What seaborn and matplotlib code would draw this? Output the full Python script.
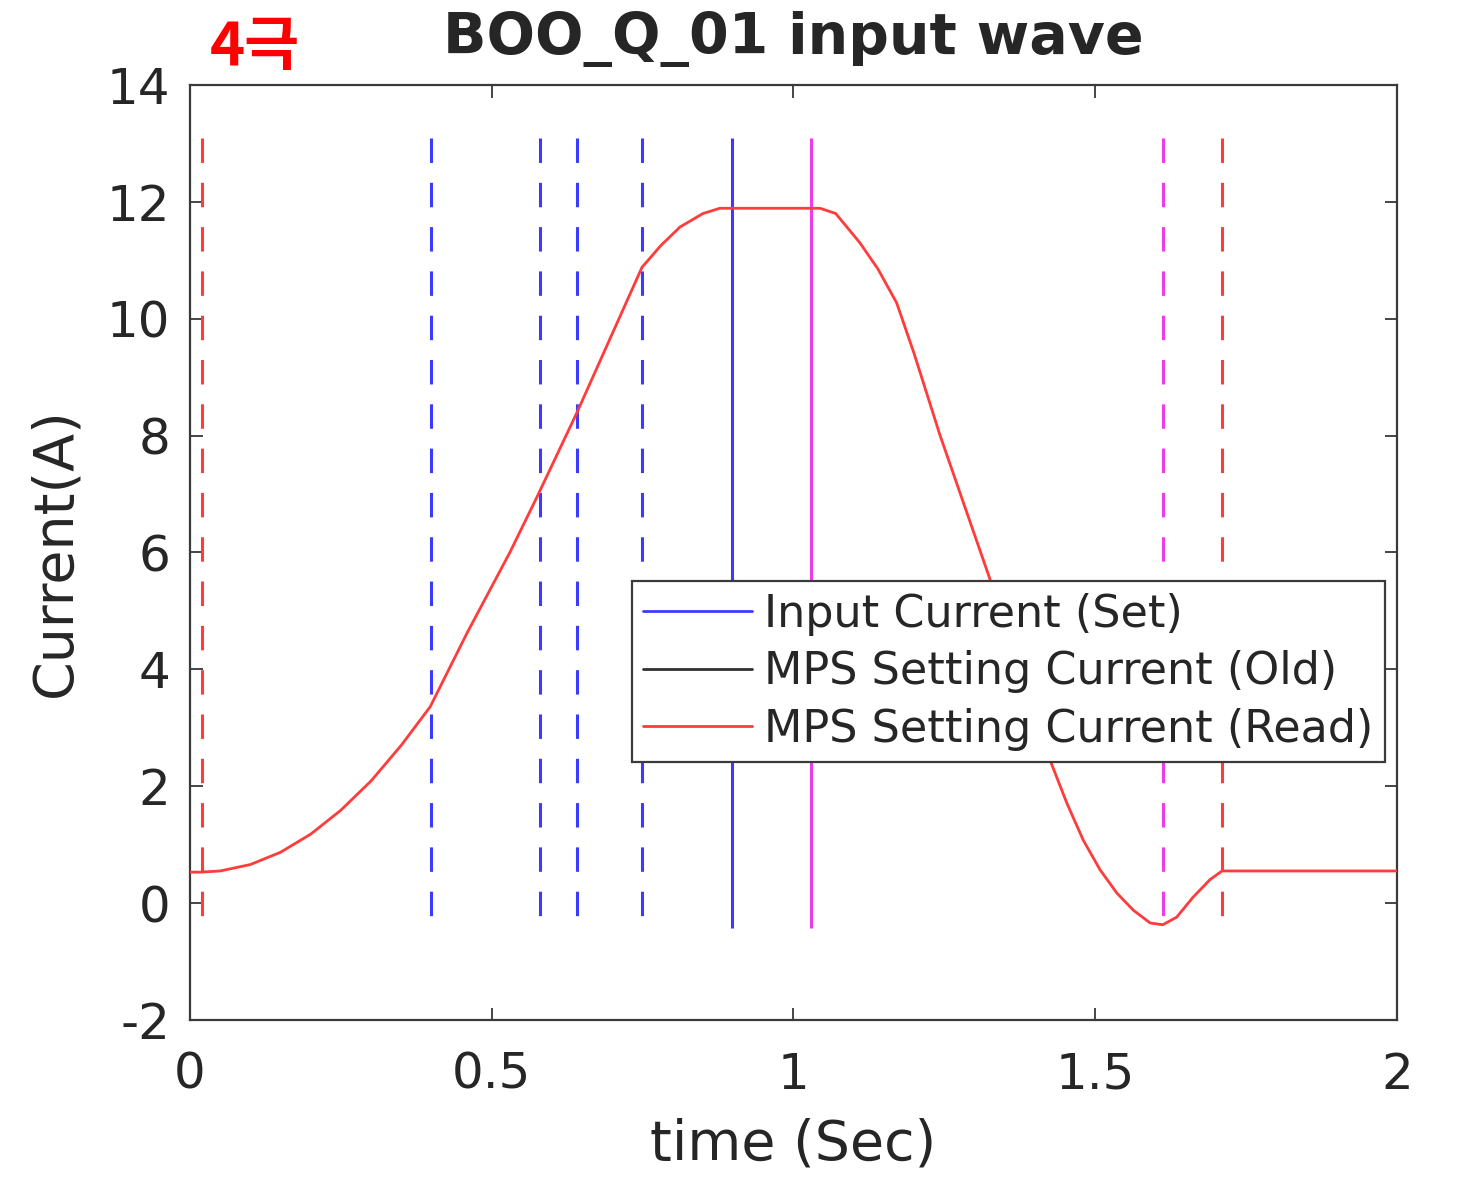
#! /usr/bin/env python
'''
BOO_Q_01 input wave: MPS setting current vs. time with event markers
'''
# imports
from matplotlib import rcParams
from matplotlib.lines import Line2D
import matplotlib.pyplot as plt
import pandas as pd
import seaborn as sns

# settings
sns.set_style("ticks")
rcParams['font.family'] = ['DejaVu Sans']
rcParams['axes.unicode_minus'] = False

# DATA
# MPS setting current read back (A) vs. time (s)
time_s = [0.0, 0.017, 0.05, 0.1, 0.15, 0.2, 0.25, 0.3, 0.35, 0.398, 0.459, 0.53, 0.575,
          0.641, 0.749, 0.78, 0.812, 0.85, 0.878, 1.044, 1.07, 1.11, 1.14, 1.171, 1.2, 1.243,
          1.326, 1.425, 1.453, 1.48, 1.508, 1.536, 1.563, 1.591, 1.612, 1.635, 1.662, 1.69,
          1.71, 2.0]
current_a = [0.53, 0.53, 0.55, 0.66, 0.87, 1.18, 1.59, 2.09, 2.7, 3.36, 4.62, 6.0, 6.95,
             8.39, 10.88, 11.25, 11.57, 11.8, 11.89, 11.89, 11.8, 11.3, 10.85, 10.27, 9.4, 8.0,
             5.53, 2.45, 1.71, 1.08, 0.57, 0.17, -0.12, -0.34, -0.37, -0.24, 0.10, 0.40,
             0.55, 0.55]

# event markers (time, colour, style)
mark_t = [0.02, 0.40, 0.58, 0.641, 0.749, 0.898, 1.029, 1.612, 1.71]
mark_c = ['#ff3b3b', '#3b3bff', '#3b3bff', '#3b3bff', '#3b3bff', '#3b3bff', '#ee3bee', '#ee3bee', '#ff3b3b']
mark_s = ['--', '--', '--', '--', '--', '-', '-', '--', '--']
mark_lo, mark_hi = -0.42, 13.1

legend_labels = ['Input Current (Set)', 'MPS Setting Current (Old)', 'MPS Setting Current (Read)']
legend_colors = ['#3b3bff', '#303030', '#ff3b3b']

df = pd.DataFrame({'time': time_s, 'current': current_a})

fig = plt.figure(figsize=(14.57, 11.8), dpi=100)
ax = fig.add_axes([0.1304, 0.1356, 0.8284, 0.7924])

# markers drawn top-down so the dash pattern starts at the top
for t, c, s in zip(mark_t, mark_c, mark_s):
    if s == '--':
        ax.vlines(t, mark_hi, mark_lo, colors=c, linestyles=(0, (8, 6.5)), linewidth=2.2)
    else:
        ax.vlines(t, mark_hi, mark_lo, colors=c, linewidth=2.2)

sns.lineplot(x='time', y='current', data=df, color='#ff3b3b', linewidth=2, ax=ax, zorder=3)

ax.set_xlim(0, 2)
ax.set_ylim(-2, 14)
ax.set_xticks([0, 0.5, 1, 1.5, 2])
ax.set_xticklabels(['0', '0.5', '1', '1.5', '2'])
ax.set_yticks(range(-2, 15, 2))
ax.tick_params(direction='in', top=True, right=True, length=9, width=1.2,
               labelsize=36, colors='#262626')
ax.tick_params(axis='x', pad=22)
ax.tick_params(axis='y', pad=14)
for sp in ax.spines.values():
    sp.set_color('#3a3a3a')
    sp.set_linewidth(1.6)

ax.set_xlabel('time (Sec)', fontsize=40, color='#262626', labelpad=14)
ax.set_ylabel('Current(A)', fontsize=40, color='#262626', labelpad=18)
ax.set_title('BOO_Q_01 input wave', fontsize=41, fontweight='bold', pad=22)

handles = [Line2D([], [], color=c, linewidth=2) for c in legend_colors]
legend = ax.legend(handles, legend_labels, loc='upper right', bbox_to_anchor=(0.990, 0.4695),
                   fontsize=32, frameon=True, fancybox=False, framealpha=1,
                   edgecolor='#3a3a3a', handlelength=2.45, handletextpad=0.27,
                   borderpad=0.26, labelspacing=0.33, borderaxespad=0)
legend.get_frame().set_linewidth(1.6)

fig.text(210 / 1457, 1 - 65 / 1180, '4극', color='red', fontsize=43, fontweight='bold',
         family=['Noto Sans CJK KR', 'DejaVu Sans'], va='baseline', ha='left')

fig.savefig('out.png', dpi=100)
plt.close()
